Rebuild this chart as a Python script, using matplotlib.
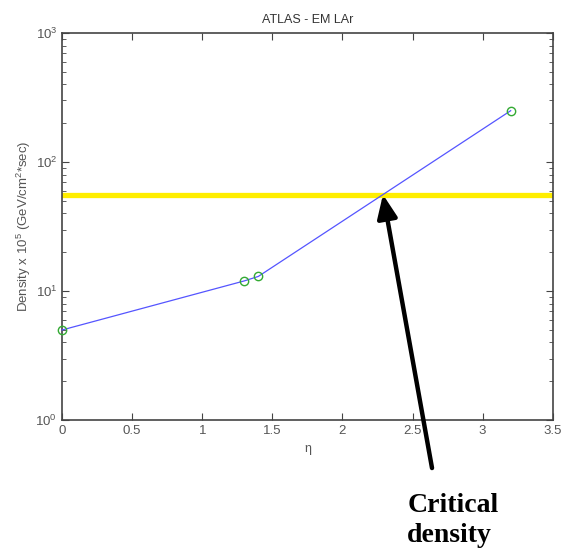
import matplotlib.pyplot as plt
import numpy as np

eta = [0.0, 1.3, 1.4, 3.2]
density = [5.0, 12.0, 13.0, 250.0]
critical_density = 56.0
x_ticks = [0, 0.5, 1, 1.5, 2, 2.5, 3, 3.5]

plt.rcParams['font.family'] = ['Liberation Sans', 'DejaVu Sans']
plt.rcParams['mathtext.fontset'] = 'custom'
plt.rcParams['mathtext.rm'] = 'Liberation Sans'

fig = plt.figure(figsize=(5.64, 5.5), dpi=100)
ax = fig.add_axes([0.110, 0.236, 0.870, 0.704])

ax.axhline(critical_density, color='#ffee00', linewidth=3.8, zorder=1)
ax.plot(eta, density, color='#5555ff', linewidth=0.9, marker='o', markersize=6,
        markerfacecolor='none', markeredgecolor='#33aa33', markeredgewidth=1.0,
        zorder=3, clip_on=False)

ax.set_yscale('log')
ax.set_xlim(0, 3.5)
ax.set_ylim(1, 1000)
ax.set_xticks(x_ticks)
ax.set_xticklabels([f'{t:g}' for t in x_ticks])
ax.tick_params(which='both', direction='in', top=True, right=True, colors='#444444',
               labelsize=9.5, labelcolor='#555555')
ax.tick_params(which='major', length=5)
ax.tick_params(which='minor', length=3)
for s in ax.spines.values():
    s.set_color('#444444')
    s.set_linewidth(1.2)

ax.set_title('ATLAS - EM LAr', fontsize=9, color='#333333', pad=7)
ax.set_xlabel('η', fontsize=9, color='#555555')
ax.set_ylabel(r'Density x 10$^5$ (GeV/cm$^2$*sec)', fontsize=9.5, color='#555555', labelpad=2)

# point where the curve crosses the critical density (log interpolation)
lx = np.log10(density)
frac = (np.log10(critical_density) - lx[2]) / (lx[3] - lx[2])
x_cross = eta[2] + frac * (eta[3] - eta[2])

ax.annotate('', xy=(x_cross, critical_density), xycoords='data',
            xytext=(0.766, 0.149), textcoords='figure fraction',
            arrowprops=dict(arrowstyle='-|>,head_length=1.4,head_width=0.6',
                            color='black', linewidth=3.2, shrinkA=0, shrinkB=0),
            annotation_clip=False)
fig.text(0.722, 0.104, 'Critical\ndensity', ha='left', va='top', fontsize=20,
         fontweight='bold', family='Liberation Serif', linespacing=1.25)

fig.savefig('out.png', dpi=100)
